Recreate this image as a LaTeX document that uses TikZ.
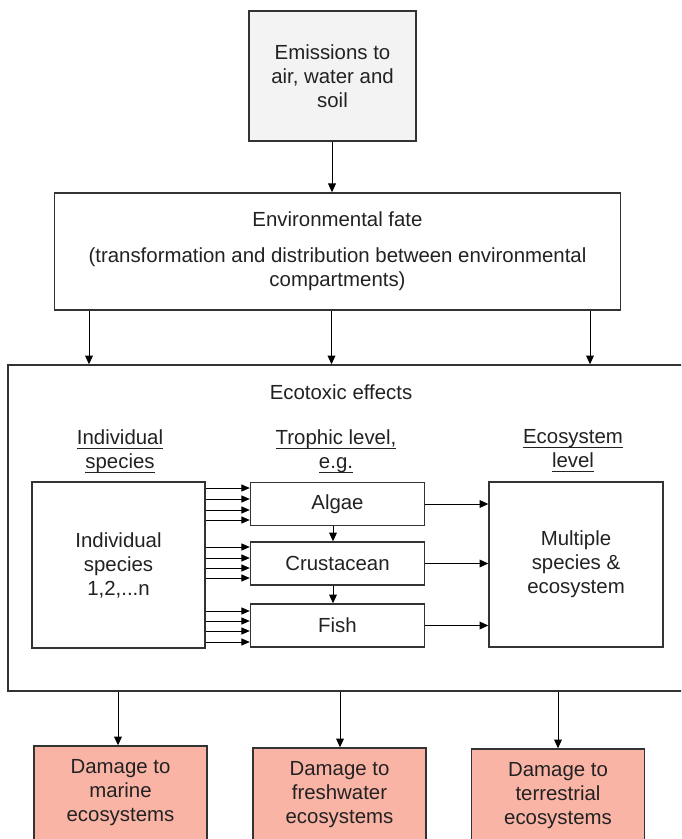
\documentclass[tikz,border=0pt]{standalone}
\usepackage{fontspec}
\setmainfont{Liberation Sans}
\usepackage{tikz}
\usetikzlibrary{arrows.meta,positioning}
\usepackage{xcolor}
\definecolor{linecol}{HTML}{333333}
\definecolor{textcol}{HTML}{222222}
\definecolor{emisfill}{HTML}{F3F3F3}
\definecolor{damagefill}{HTML}{F9B4A6}
% underline at a fixed depth below the baseline
\newcommand{\uln}[1]{\setbox0\hbox{#1}\rlap{\rule[-2.2pt]{\wd0}{0.5pt}}\box0}
\tikzset{
  box/.style={draw=linecol,line width=0.7pt,fill=white,align=center,inner sep=0pt,
    text=textcol,font=\fontsize{10.2}{12}\selectfont},
  tropbox/.style={box,minimum width=87pt,minimum height=21.5pt},
  damage/.style={box,fill=damagefill,minimum width=86.5pt,minimum height=47pt},
  heading/.style={align=center,inner sep=0pt,text=textcol,font=\fontsize{10.2}{12}\selectfont},
  arrow/.style={-{Triangle[length=4.4pt,width=3.9pt]},draw=black,line width=0.5pt},
  smallarrow/.style={-{Triangle[length=4.2pt,width=3.5pt]},draw=black,line width=0.5pt}
}

\begin{document}
\begin{tikzpicture}[x=0.5pt,y=-0.5pt]
  \clip (0,0) rectangle (681,839);
  \fill[white] (0,0) rectangle (681,839);
  % top part
  \node[box,fill=emisfill,minimum width=83.5pt,minimum height=65pt] (emis) at (332.5,76)
    {Emissions to\\air, water and\\soil};
  \node[box,minimum width=283pt,minimum height=58.5pt] (fate) at (337.5,251.5)
    {Environmental fate\\[6pt](transformation and distribution between environmental\\compartments)};
  \draw[arrow] (emis.south -| 332,0) -- (fate.north -| 332,0);
  % ecotoxic effects
  \node[box,minimum width=346pt,minimum height=163pt] (eco) at (354,528) {};
  \node[heading] (ecotitle) at (341,392) {Ecotoxic effects};
  \foreach \x in {89,331.5,590}
    \draw[arrow] (fate.south -| \x,0) -- (eco.north -| \x,0);
  \node[heading] (hind) at (120,451) {\uln{Individual}\\\uln{species}};
  \node[heading] (htro) at (336,451) {\uln{Trophic level,}\\\uln{e.g.}};
  \node[heading] (heco) at (573,451) {\uln{Ecosystem}\\\uln{level}};
  \node[box,minimum width=86.5pt,minimum height=83pt] (indiv) at (118.5,565)
    {Individual\\species\\1,2,...n};
  \node[tropbox] (algae) at (337.5,504) {Algae};
  \node[tropbox] (crus) at (337.5,563.5) {Crustacean};
  \node[tropbox] (fish) at (337.5,625.5) {Fish};
  \node[box,minimum width=87pt,minimum height=82.5pt] (multi) at (576,564.5)
    {Multiple\\species \&\\ecosystem};
  \foreach \y in {488,499,510,520}
    \draw[smallarrow] (indiv.east |- 0,\y) -- (algae.west |- 0,\y);
  \foreach \y in {547,558,568,578}
    \draw[smallarrow] (indiv.east |- 0,\y) -- (crus.west |- 0,\y);
  \foreach \y in {611,621,631,642}
    \draw[smallarrow] (indiv.east |- 0,\y) -- (fish.west |- 0,\y);
  \draw[arrow] (algae.south -| 333,0) -- (crus.north -| 333,0);
  \draw[arrow] (crus.south -| 333,0) -- (fish.north -| 333,0);
  \draw[arrow] (algae.east) -- (multi.west |- algae.east);
  \draw[arrow] (crus.east) -- (multi.west |- crus.east);
  \draw[arrow] (fish.east) -- (multi.west |- fish.east);
  % damage
  \node[damage] (marine) at (120.5,793) {Damage to\\marine\\ecosystems};
  \node[damage] (fresh) at (339.5,795) {Damage to\\freshwater\\ecosystems};
  \node[damage] (terr) at (558,796) {Damage to\\terrestrial\\ecosystems};
  \draw[arrow] (eco.south -| 118,0) -- (marine.north -| 118,0);
  \draw[arrow] (eco.south -| 340,0) -- (fresh.north -| 340,0);
  \draw[arrow] (eco.south -| 558,0) -- (terr.north -| 558,0);
\end{tikzpicture}
\end{document}
